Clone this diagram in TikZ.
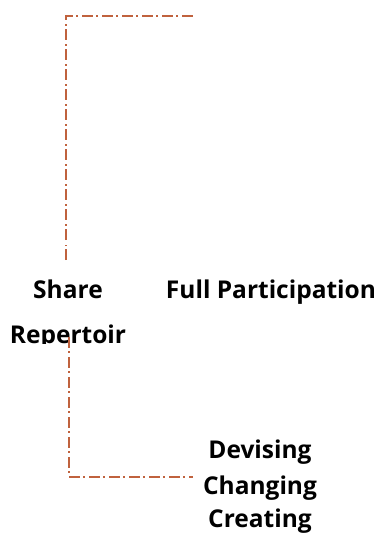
\documentclass[tikz,border=0pt]{standalone}
\usepackage{fontspec}
\setmainfont{Open Sans}
\begin{document}
\begin{tikzpicture}[x=1pt,y=-1pt,
  lbl/.style={font=\bfseries\fontsize{24.5}{28}\selectfont, inner sep=0pt, anchor=base, text=black},
  link/.style={draw={rgb,255:red,192;green,98;blue,62}, line width=1.3pt,
    dash pattern=on 11pt off 3pt on 1.5pt off 4.5pt}]
\useasboundingbox (0,0) rectangle (380,534);
\node[lbl] (share) at (68,298) {Share};
\node[lbl] (full) at (271,298) {Full Participation};
\begin{scope}
  \clip (0,300) rectangle (380,343);
  \node[lbl] (rep) at (68,343) {Repertoir};
\end{scope}
\node[lbl] (dev) at (260,458) {Devising};
\node[lbl] (chg) at (260,494) {Changing};
\node[lbl] (cre) at (260,527) {Creating};
\coordinate (t0) at (66,260);
\coordinate (t1) at (66,16);
\coordinate (t2) at (194,16);
\coordinate (b0) at (69,337);
\coordinate (b1) at (69,477);
\coordinate (b2) at (193,477);
\draw[link] (t0) -- (t1) -- (t2);
\draw[link] (b0) -- (b1) -- (b2);
\end{tikzpicture}
\end{document}
